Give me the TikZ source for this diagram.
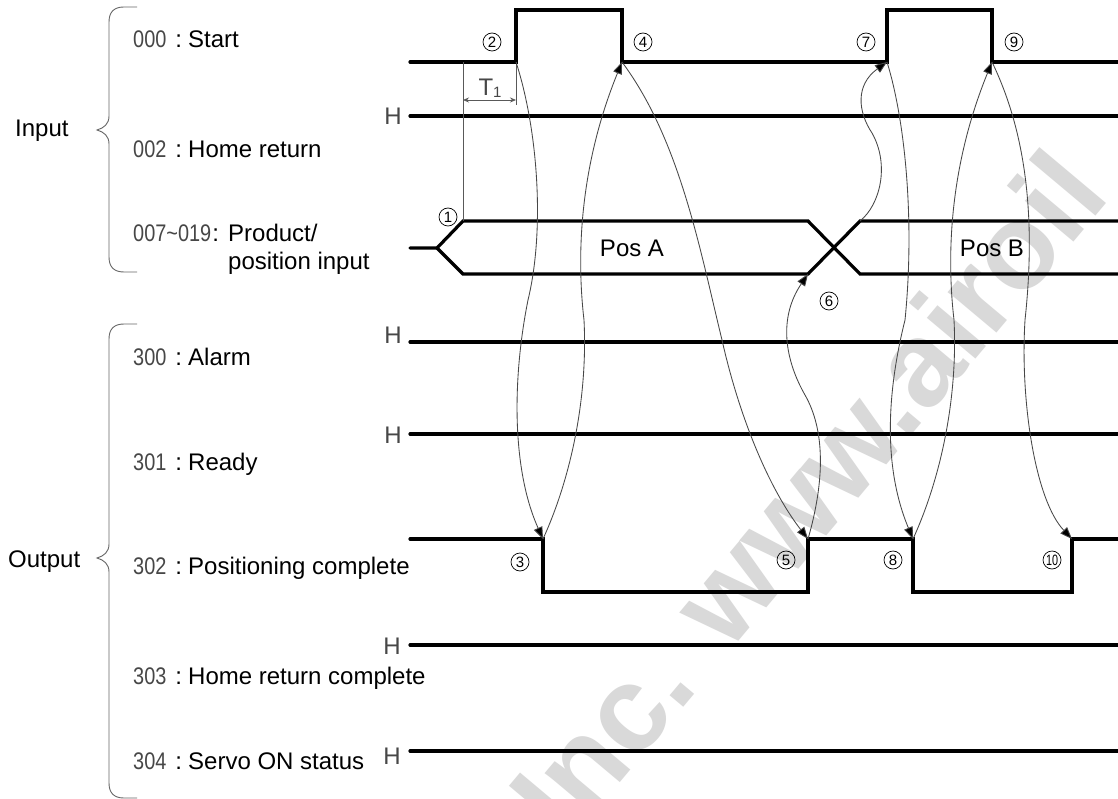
\documentclass[tikz,border=0pt]{standalone}
\usepackage{fontspec}
\usepackage{graphicx}
\setmainfont{Liberation Sans}
\usetikzlibrary{arrows.meta}
\newcommand\numf[1]{{\color{black!72}\scalebox{0.83}[1]{#1}}}
\begin{document}
\begin{tikzpicture}[x=1pt,y=-1pt,
  lbl/.style={anchor=base west,inner sep=0pt,font=\fontsize{24}{28}\selectfont},
  hlbl/.style={inner sep=0pt,text=black!72,font=\fontsize{24}{28}\selectfont},
  sig/.style={line width=3.2pt,line join=miter,line cap=round},
  conn/.style={line width=0.85pt,draw=black!72,-{Triangle[length=12pt,width=9pt,fill=black]}},
  dim/.style={line width=0.8pt,draw=black!65},
  cnum/.style={circle,draw,line width=0.7pt,inner sep=0pt,minimum size=18pt,font=\fontsize{15}{15}\selectfont},
  brace/.style={line width=0.9pt,draw=black!60},
  wm/.style={anchor=base west,inner sep=0pt,text=black!15,font=\fontsize{120}{120}\selectfont\bfseries,rotate=50}]
\useasboundingbox (0,0) rectangle (1118,799);
\fill[white] (0,0) rectangle (1118,799);

% watermark
\node[wm] (wmark) at (567,846) {Inc. www.airoil};

% braces
\draw[brace] (137,7) -- (124,7) .. controls (114,7) and (109,12) .. (109,22) -- (109,116)
  .. controls (109,124) and (104,128) .. (97,130) .. controls (104,132) and (109,136) .. (109,144)
  -- (109,257) .. controls (109,267) and (114,272) .. (124,272) -- (137,272);
\draw[brace] (137,324) -- (124,324) .. controls (114,324) and (109,329) .. (109,339) -- (109,544)
  .. controls (109,552) and (104,556) .. (97,558) .. controls (104,560) and (109,564) .. (109,572)
  -- (109,783) .. controls (109,793) and (114,798) .. (124,798) -- (137,798);
\node[lbl] (inp) at (15,137) {Input};
\node[lbl] (outp) at (8,567) {Output};

% labels
\node[lbl] (l000) at (133,48) {\makebox[36pt][l]{\numf{000}}\makebox[19pt][c]{:}Start};
\node[lbl] (l002) at (133,158) {\makebox[36pt][l]{\numf{002}}\makebox[19pt][c]{:}Home return};
\node[lbl] (l007) at (133,242) {\makebox[70pt][l]{\numf{007\textasciitilde019}}\makebox[25pt][c]{:}Product/};
\node[lbl] (l007b) at (228,270) {position input};
\node[lbl] (l300) at (133,365) {\makebox[36pt][l]{\numf{300}}\makebox[19pt][c]{:}Alarm};
\node[lbl] (l301) at (133,470) {\makebox[36pt][l]{\numf{301}}\makebox[19pt][c]{:}Ready};
\node[lbl] (l302) at (133,574) {\makebox[36pt][l]{\numf{302}}\makebox[19pt][c]{:}Positioning complete};
\node[lbl] (l303) at (133,684) {\makebox[36pt][l]{\numf{303}}\makebox[19pt][c]{:}Home return complete};
\node[lbl] (l304) at (133,769) {\makebox[36pt][l]{\numf{304}}\makebox[19pt][c]{:}Servo ON status};

% H markers
\node[hlbl] (h002) at (393,116) {H};
\node[hlbl] (h300) at (393,335) {H};
\node[hlbl] (h301) at (393,435) {H};
\node[hlbl] (h303) at (392,646) {H};
\node[hlbl] (h304) at (392,756) {H};

% coordinates: start
\coordinate (s0) at (410,62);
\coordinate (sr1) at (516,62);
\coordinate (sr1t) at (516,10);
\coordinate (sf1t) at (622,10);
\coordinate (sf1) at (622,62);
\coordinate (sr2) at (887,62);
\coordinate (sr2t) at (887,10);
\coordinate (sf2t) at (992,10);
\coordinate (sf2) at (992,62);
\coordinate (send) at (1120,62);
% positioning complete
\coordinate (p0) at (410,539);
\coordinate (pf1) at (543,539);
\coordinate (pf1b) at (543,592);
\coordinate (pr1b) at (808,592);
\coordinate (pr1) at (808,539);
\coordinate (pf2) at (913,539);
\coordinate (pf2b) at (913,592);
\coordinate (pr2b) at (1072,592);
\coordinate (pr2) at (1072,539);
\coordinate (pend) at (1120,539);
% bus
\coordinate (b0) at (410,248);
\coordinate (bs) at (437,248);
\coordinate (bAt) at (463,221);
\coordinate (bAb) at (463,274);
\coordinate (bXt) at (808,221);
\coordinate (bXb) at (808,274);
\coordinate (bBt) at (860,221);
\coordinate (bBb) at (860,274);
\coordinate (bEt) at (1120,221);
\coordinate (bEb) at (1120,274);
% T1
\coordinate (t1top) at (463,62);
\coordinate (t1tick) at (516,105);
\coordinate (t1a) at (463,100);
\coordinate (t1b) at (516,100);

% signals
\draw[sig] (s0) -- (sr1) -- (sr1t) -- (sf1t) -- (sf1) -- (sr2) -- (sr2t) -- (sf2t) -- (sf2) -- (send);
\draw[sig] (410,116) -- (1120,116);
\draw[sig] (b0) -- (bs) -- (bAt) -- (bXt) -- (bBb) -- (bEb);
\draw[sig] (bs) -- (bAb) -- (bXb) -- (bBt) -- (bEt);
\draw[sig] (410,342) -- (1120,342);
\draw[sig] (410,434) -- (1120,434);
\draw[sig] (p0) -- (pf1) -- (pf1b) -- (pr1b) -- (pr1) -- (pf2) -- (pf2b) -- (pr2b) -- (pr2) -- (pend);
\draw[sig] (410,645) -- (1120,645);
\draw[sig] (410,751) -- (1120,751);

% T1 dimension
\draw[dim] (bAt) -- (t1top);
\draw[dim] (sr1) -- (t1tick);
\draw[dim,{Stealth[length=6pt,width=5pt]}-{Stealth[length=6pt,width=5pt]}] (t1a) -- (t1b);
\node[inner sep=0pt,text=black!72,font=\fontsize{24}{28}\selectfont] (t1) at (490,88) {T\raisebox{-2pt}{\fontsize{15}{15}\selectfont 1}};

% data labels
\node[inner sep=0pt,font=\fontsize{24}{28}\selectfont] (posA) at (632,248) {Pos A};
\node[inner sep=0pt,font=\fontsize{24}{28}\selectfont] (posB) at (992,248) {Pos B};

% circled numbers
\node[cnum] (n1) at (448,217) {1};
\node[cnum] (n2) at (492,42) {2};
\node[cnum] (n3) at (520,562) {3};
\node[cnum] (n4) at (643,42) {4};
\node[cnum] (n5) at (786,560) {5};
\node[cnum] (n6) at (829,301) {6};
\node[cnum] (n7) at (866,42) {7};
\node[cnum] (n8) at (893,560) {8};
\node[cnum] (n9) at (1014,42) {9};
\node[cnum] (n10) at (1052,560) {\scalebox{0.72}[1]{10}};

% causal connectors
\draw[conn] (sr1) .. controls (538,130) and (545,230) .. (528,300) .. controls (512,380) and (512,470) .. (pf1);
\draw[conn] (pf1) .. controls (570,480) and (588,400) .. (584,320) .. controls (577,260) and (578,170) .. (sf1);
\draw[conn] (sf1) .. controls (680,140) and (700,250) .. (722,340) .. controls (740,420) and (770,490) .. (pr1);
\draw[conn] (pr1) .. controls (825,480) and (825,430) .. (805,395) .. controls (785,360) and (778,318) .. (bXb);
\draw[conn] (bBt) .. controls (880,205) and (890,165) .. (872,133) .. controls (858,112) and (855,85) .. (sr2);
\draw[conn] (sr2) .. controls (905,120) and (915,220) .. (905,320) .. controls (890,380) and (880,460) .. (pf2);
\draw[conn] (pf2) .. controls (940,480) and (958,400) .. (954,320) .. controls (947,260) and (948,170) .. (sf2);
\draw[conn] (sf2) .. controls (1020,120) and (1038,200) .. (1025,320) .. controls (1020,400) and (1035,500) .. (pr2);
\end{tikzpicture}
\end{document}
